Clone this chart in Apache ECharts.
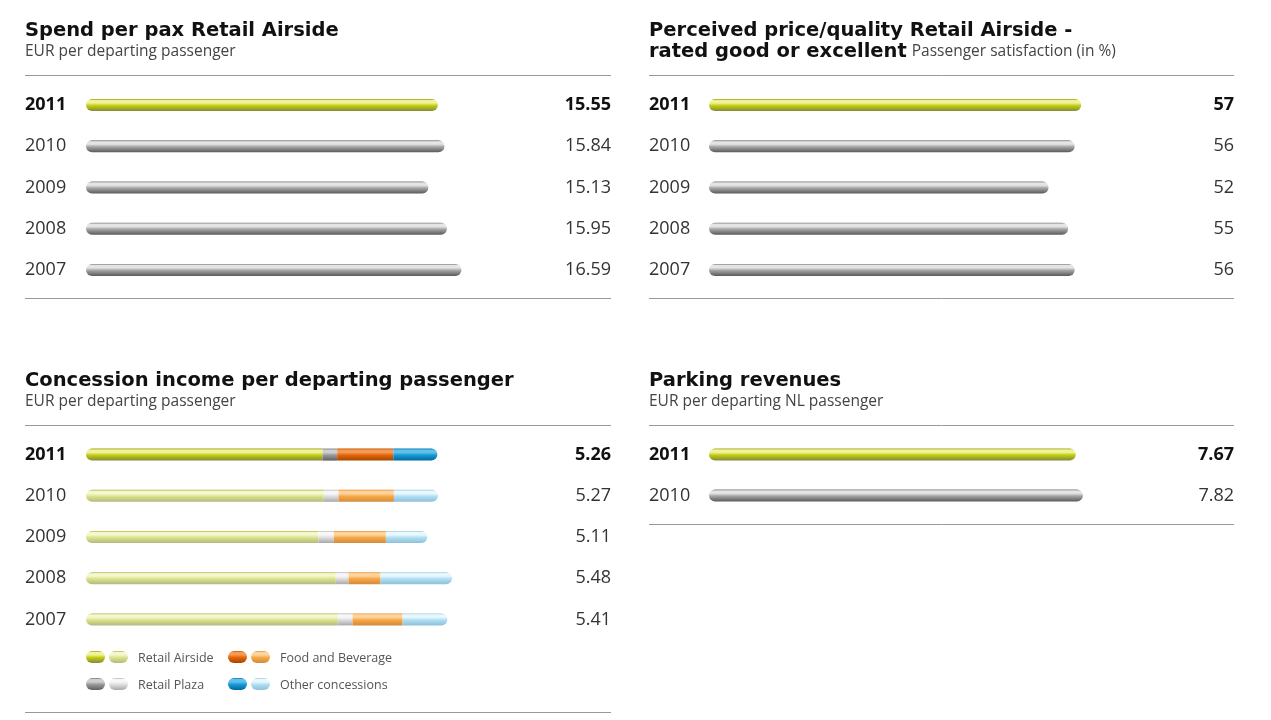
<!DOCTYPE html>
<html>
<head>
<meta charset="utf-8">
<script src="https://cdn.jsdelivr.net/npm/echarts@6/dist/echarts.min.js"></script>
<style>
  html, body { margin: 0; padding: 0; background: #fff; }
  #main { width: 1271px; height: 720px; }
</style>
</head>
<body>
<div id="main"></div>
<script>
// data
var years = ['2011', '2010', '2009', '2008', '2007'];
var spendPerPax = [15.55, 15.84, 15.13, 15.95, 16.59];
var priceQuality = [57, 56, 52, 55, 56];
var concessionTotal = [5.26, 5.27, 5.11, 5.48, 5.41];
var retailAirside = [3.54, 3.56, 3.48, 3.74, 3.77];
var retailPlaza = [0.22, 0.22, 0.23, 0.19, 0.22];
var foodBeverage = [0.84, 0.83, 0.78, 0.48, 0.75];
var otherConcessions = [0.66, 0.66, 0.62, 1.07, 0.67];
var parkingYears = ['2011', '2010'];
var parking = [7.67, 7.82];

var font = '"Open Sans", "Noto Sans", sans-serif';
var headFont = '"DejaVu Sans", sans-serif';

// cylinder look: top edge, highlight, body, shadow
function tube(t, h, c, s) {
  return {
    type: 'linear', x: 0, y: 0, x2: 0, y2: 1,
    colorStops: [
      { offset: 0, color: t },
      { offset: 0.12, color: h },
      { offset: 0.32, color: h },
      { offset: 0.55, color: c },
      { offset: 1, color: s }
    ]
  };
}
var lime = tube('#9aa600', '#eef39c', '#c2cc0c', '#7f8a3c');
var grey = tube('#777777', '#e4e4e4', '#a4a4a4', '#5a5a5a');
var limeLight = tube('#a9b32a', '#f4f7d2', '#dbe388', '#b3b982');
var greyDark = tube('#6f6f6f', '#cfcfcf', '#989898', '#5f5f5f');
var greyLight = tube('#b5b5b5', '#f7f7f7', '#dedede', '#a8a8a8');
var orangeDark = tube('#c24e00', '#f49a52', '#e4640a', '#a34500');
var orangeLight = tube('#ec8a1e', '#fdd3a0', '#f6a843', '#d28a40');
var blueDark = tube('#0074ab', '#5fc0ec', '#1898d4', '#00689a');
var blueLight = tube('#8ccbe8', '#eaf7fd', '#b0dff3', '#8ec0d8');

var yearLabel = {
  align: 'left', color: '#333', fontSize: 18, fontFamily: font,
  formatter: function (v, i) { return i === 0 ? '{b|' + v + '}' : v; },
  rich: { b: { fontWeight: 'bold', color: '#111', fontSize: 18, fontFamily: font } }
};
function valueLabel(arr, dec) {
  return {
    align: 'right', margin: 0, color: '#333', fontSize: 18, fontFamily: font,
    formatter: function (v, i) {
      var s = arr[i].toFixed(dec);
      return i === 0 ? '{b|' + s + '}' : s;
    },
    rich: { b: { fontWeight: 'bold', color: '#111', fontSize: 18, fontFamily: font } }
  };
}

var grids = [
  { left: 86, top: 84.5, width: 525, height: 206 },
  { left: 709, top: 84.5, width: 525, height: 206 },
  { left: 86, top: 434, width: 525, height: 206 },
  { left: 709, top: 434, width: 525, height: 82 }
];
var xMax = [23.2, 80.4, 7.86, 10.98];

var xAxes = grids.map(function (g, i) {
  return { gridIndex: i, type: 'value', min: 0, max: xMax[i], show: false };
});

function catAxes(gi, cats, margin, vals, dec) {
  var base = {
    gridIndex: gi, type: 'category', data: cats, inverse: true,
    axisLine: { show: false }, axisTick: { show: false }, splitLine: { show: false }
  };
  var left = Object.assign({}, base, { position: 'left', axisLabel: Object.assign({ margin: margin }, yearLabel) });
  var right = Object.assign({}, base, { position: 'right', axisLabel: valueLabel(vals, dec) });
  return [left, right];
}
var yAxes = [].concat(
  catAxes(0, years, 61, spendPerPax, 2),
  catAxes(1, years, 60, priceQuality, 0),
  catAxes(2, years, 61, concessionTotal, 2),
  catAxes(3, parkingYears, 60, parking, 2)
);

function simple(gi, vals) {
  return {
    type: 'bar', xAxisIndex: gi, yAxisIndex: gi * 2, barWidth: 12,
    silent: true,
    data: vals.map(function (v, i) {
      return { value: v, itemStyle: { color: i === 0 ? lime : grey, borderRadius: 6 } };
    })
  };
}
function stackPart(name, vals, dark, light, radius) {
  return {
    name: name, type: 'bar', stack: 'c', xAxisIndex: 2, yAxisIndex: 4, barWidth: 12,
    silent: true,
    data: vals.map(function (v, i) {
      return { value: v, itemStyle: { color: i === 0 ? dark : light, borderRadius: radius } };
    })
  };
}

var series = [
  simple(0, spendPerPax),
  simple(1, priceQuality),
  stackPart('Retail Airside', retailAirside, lime, limeLight, [6, 0, 0, 6]),
  stackPart('Retail Plaza', retailPlaza, greyDark, greyLight, 0),
  stackPart('Food and Beverage', foodBeverage, orangeDark, orangeLight, 0),
  stackPart('Other concessions', otherConcessions, blueDark, blueLight, [0, 6, 6, 0]),
  simple(3, parking)
];

var richHead = {
  t: { color: '#111', fontSize: 19.5, fontWeight: 'bold', fontFamily: headFont, lineHeight: 18 },
  s: { color: '#444', fontSize: 15.5, fontWeight: 'normal', fontFamily: font, lineHeight: 25 }
};
var richHead2 = {
  t: { color: '#111', fontSize: 19.5, fontWeight: 'bold', fontFamily: headFont, lineHeight: 21 },
  s: { color: '#444', fontSize: 15.5, fontWeight: 'normal', fontFamily: font, lineHeight: 21 }
};
function head(x, y, title, sub) {
  return { left: x, top: y, padding: 0, text: '{t|' + title + '}\n{s|' + sub + '}', textStyle: { rich: richHead } };
}
var titles = [
  head(25, 21.5, 'Spend per pax Retail Airside', 'EUR per departing passenger'),
  { left: 649, top: 20, padding: 0,
    text: '{t|Perceived price/quality Retail Airside -}\n{t|rated good or excellent} {s|Passenger satisfaction (in %)}',
    textStyle: { rich: richHead2 } },
  head(25, 371.5, 'Concession income per departing passenger', 'EUR per departing passenger'),
  head(649, 371.5, 'Parking revenues', 'EUR per departing NL passenger')
];

function rule(x1, x2, y) {
  return { type: 'line', shape: { x1: x1, y1: y, x2: x2, y2: y }, style: { stroke: '#999', lineWidth: 1 }, silent: true };
}
var graphics = [
  rule(25, 611, 75.5), rule(25, 611, 298.5),
  rule(649, 1234, 75.5), rule(649, 1234, 298.5),
  rule(25, 611, 425.5), rule(25, 611, 712.5),
  rule(649, 1234, 425.5), rule(649, 1234, 524.5)
];

// legend for concession chart: dark + light pill per category
var legendItems = [
  { name: 'Retail Airside', dark: lime, light: limeLight, x: 86, y: 651 },
  { name: 'Food and Beverage', dark: orangeDark, light: orangeLight, x: 228, y: 651 },
  { name: 'Retail Plaza', dark: greyDark, light: greyLight, x: 86, y: 678 },
  { name: 'Other concessions', dark: blueDark, light: blueLight, x: 228, y: 678 }
];
legendItems.forEach(function (it) {
  graphics.push({ type: 'rect', shape: { x: it.x, y: it.y, width: 19, height: 12, r: 6 }, style: { fill: it.dark }, silent: true });
  graphics.push({ type: 'rect', shape: { x: it.x + 23, y: it.y, width: 19, height: 12, r: 6 }, style: { fill: it.light }, silent: true });
  graphics.push({ type: 'text', x: it.x + 52, y: it.y + 7, style: { text: it.name, fill: '#555', font: '12.5px ' + font, verticalAlign: 'middle' }, silent: true });
});

var chart = echarts.init(document.getElementById('main'));
chart.setOption({
  animation: false,
  title: titles,
  grid: grids,
  xAxis: xAxes,
  yAxis: yAxes,
  series: series,
  graphic: graphics
});
</script>
</body>
</html>
